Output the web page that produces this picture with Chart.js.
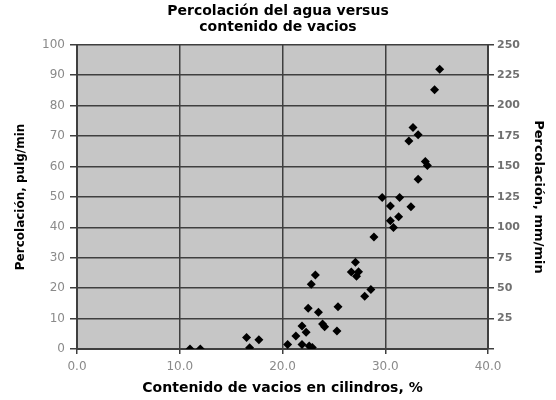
<!DOCTYPE html>
<html>
<head>
<meta charset="utf-8">
<script src="https://cdn.jsdelivr.net/npm/chart.js@4"></script>
<style>
  html, body { margin: 0; padding: 0; background: #ffffff; }
  #wrap { width: 556px; height: 400px; }
</style>
</head>
<body>
<div id="wrap"><canvas id="chart" width="556" height="400"></canvas></div>
<script>
// Data: void content (%) vs percolation (pulg/min)
const voidContent = [11.0, 12.0, 16.5, 17.7, 16.8, 20.5, 21.3, 21.9, 22.3, 21.9, 22.6, 22.9,
  22.5, 23.5, 23.9, 24.1, 25.3, 25.4, 22.8, 23.2, 26.7, 27.2, 27.4, 27.1, 28.0, 28.6,
  28.9, 29.7, 30.5, 30.8, 30.5, 31.3, 31.4, 32.5, 33.2, 33.9, 34.1, 32.3, 33.2, 32.7, 34.8, 35.3];
const percolation = [0, 0, 3.8, 3.0, 0.4, 1.5, 4.3, 7.6, 5.5, 1.5, 1.0, 0.5,
  13.4, 12.1, 8.2, 7.3, 5.9, 13.9, 21.3, 24.3, 25.3, 23.9, 25.4, 28.5, 17.3, 19.6,
  36.8, 49.8, 47.0, 39.9, 42.2, 43.5, 49.8, 46.8, 55.8, 61.6, 60.3, 68.4, 70.4, 72.8, 85.2, 92.0];

const xTicks = [0, 10, 20, 30, 40];
const leftTicks = [0, 10, 20, 30, 40, 50, 60, 70, 80, 90, 100];
const rightTicks = [0, 25, 50, 75, 100, 125, 150, 175, 200, 225, 250];

const points = voidContent.map((x, i) => ({ x: x, y: percolation[i] }));

const gridColor = '#3f3f3f';
const tickColor = '#8a8a8a';
const fam = "'DejaVu Sans', sans-serif";

// grey plot background
const plotBg = {
  id: 'plotBg',
  beforeDraw(chart) {
    const { ctx, chartArea: a } = chart;
    ctx.save();
    ctx.fillStyle = '#c6c6c6';
    ctx.fillRect(a.left, a.top, a.right - a.left, a.bottom - a.top);
    ctx.restore();
  }
};

new Chart(document.getElementById('chart').getContext('2d'), {
  type: 'scatter',
  data: {
    datasets: [{
      data: points,
      pointStyle: 'rectRot',
      pointRadius: 4.5,
      backgroundColor: '#000000',
      borderColor: '#000000',
      borderWidth: 0
    }]
  },
  options: {
    responsive: false,
    animation: false,
    layout: { padding: 0 },
    plugins: {
      legend: { display: false },
      tooltip: { enabled: false },
      title: {
        display: true,
        text: ['Percolación del agua versus', 'contenido de vacios'],
        color: '#000000',
        font: { family: fam, size: 14, weight: 'bold', lineHeight: 1.1 },
        padding: { top: 4, bottom: 10 }
      }
    },
    scales: {
      x: {
        type: 'linear',
        min: 0,
        max: 40,
        afterBuildTicks: s => { s.ticks = xTicks.map(v => ({ value: v })); },
        afterFit: s => { s.height = 51; },
        grid: { color: gridColor, lineWidth: 1.5, tickLength: 5, tickColor: gridColor },
        border: { color: gridColor, width: 2 },
        ticks: {
          color: tickColor,
          padding: 6,
          maxRotation: 0,
          font: { family: fam, size: 12 },
          callback: v => Number(v).toFixed(1)
        },
        title: {
          display: true,
          text: 'Contenido de vacios en cilindros, %',
          color: '#000000',
          font: { family: fam, size: 14, weight: 'bold' },
          padding: { top: 4, bottom: 3 }
        }
      },
      y: {
        type: 'linear',
        position: 'left',
        min: 0,
        max: 100,
        afterBuildTicks: s => { s.ticks = leftTicks.map(v => ({ value: v })); },
        afterFit: s => { s.width = 77; },
        grid: { color: gridColor, lineWidth: 1.5, tickLength: 7, tickColor: gridColor },
        border: { color: gridColor, width: 2 },
        ticks: {
          color: tickColor,
          padding: 5,
          font: { family: fam, size: 12 }
        },
        title: {
          display: true,
          text: 'Percolación, pulg/min',
          color: '#000000',
          font: { family: fam, size: 12, weight: 'bold' },
          padding: { top: 14, bottom: 0 }
        }
      },
      y2: {
        type: 'linear',
        position: 'right',
        min: 0,
        max: 250,
        afterBuildTicks: s => { s.ticks = rightTicks.map(v => ({ value: v })); },
        afterFit: s => { s.width = 68; },
        grid: { drawOnChartArea: false, tickLength: 6, tickColor: gridColor, lineWidth: 1.5 },
        border: { color: gridColor, width: 2 },
        ticks: {
          color: '#707070',
          padding: 3,
          font: { family: fam, size: 11, weight: 'bold' },
          callback: v => (v === 0 ? '' : v)
        },
        title: {
          display: true,
          text: 'Percolación, mm/min',
          color: '#000000',
          font: { family: fam, size: 13, weight: 'bold' },
          padding: { top: 10, bottom: 0 }
        }
      }
    }
  },
  plugins: [plotBg]
});
</script>
</body>
</html>
